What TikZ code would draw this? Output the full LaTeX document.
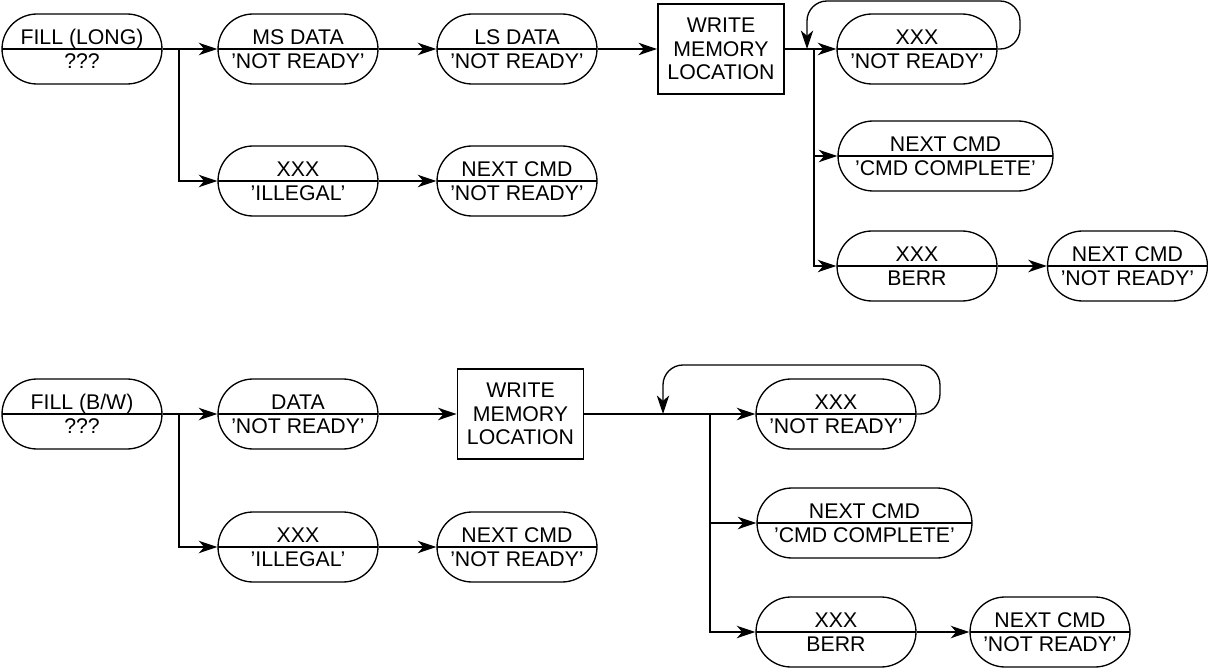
\documentclass[tikz,border=0pt]{standalone}
\usepackage{fontspec}
\setmainfont{Liberation Sans}
\usetikzlibrary{arrows.meta,shapes.misc}

\tikzset{
  etat/.style={rounded rectangle,draw,line width=0.75pt,minimum width=3.2cm,minimum height=1.4cm,inner sep=0pt,
    path picture={\draw[line width=1.2pt] (path picture bounding box.west) -- (path picture bounding box.east);}},
  haut/.style={anchor=base,yshift=2.8pt,inner sep=0pt},
  bas/.style={anchor=base,yshift=-11.3pt,inner sep=0pt},
  boite/.style={draw,line width=1pt,minimum width=2.52cm,minimum height=1.8cm,align=center,inner sep=0pt},
  fleche/.style={line width=1.2pt,-{Stealth[length=10.5pt,width=7pt,inset=3pt]}},
  boucle/.style={line width=0.75pt,rounded corners=0.4cm,-{Stealth[length=10.5pt,width=7pt,inset=3pt]}},
}

\begin{document}
\begin{tikzpicture}[x=0.02cm,y=-0.02cm,font=\fontsize{12.1}{13.3}\selectfont]
  \useasboundingbox (0,0) rectangle (1208,669);
  % --- FILL (LONG) ---
  \node[etat] (fillL) at (82,49){};
  \node[haut] (fillLh) at (fillL){FILL (LONG)};
  \node[bas] (fillLb) at (fillL){???};
  \node[etat] (msdL) at (298,49){};
  \node[haut] (msdLh) at (msdL){MS DATA};
  \node[bas] (msdLb) at (msdL){'NOT READY'};
  \node[etat] (lsdL) at (517,49){};
  \node[haut] (lsdLh) at (lsdL){LS DATA};
  \node[bas] (lsdLb) at (lsdL){'NOT READY'};
  \node[boite] (wmL) at (721,49){WRITE\\MEMORY\\LOCATION};
  \node[etat] (xxxL) at (917,49){};
  \node[haut] (xxxLh) at (xxxL){XXX};
  \node[bas] (xxxLb) at (xxxL){'NOT READY'};
  \node[etat,minimum width=4.3cm] (ccL) at (945.5,156){};
  \node[haut] (ccLh) at (ccL){NEXT CMD};
  \node[bas] (ccLb) at (ccL){'CMD COMPLETE'};
  \node[etat] (berrL) at (917,266){};
  \node[haut] (berrLh) at (berrL){XXX};
  \node[bas] (berrLb) at (berrL){BERR};
  \node[etat] (ncBL) at (1127.5,266){};
  \node[haut] (ncBLh) at (ncBL){NEXT CMD};
  \node[bas] (ncBLb) at (ncBL){'NOT READY'};
  \node[etat] (illL) at (298,181){};
  \node[haut] (illLh) at (illL){XXX};
  \node[bas] (illLb) at (illL){'ILLEGAL'};
  \node[etat] (ncIL) at (517,181){};
  \node[haut] (ncILh) at (ncIL){NEXT CMD};
  \node[bas] (ncILb) at (ncIL){'NOT READY'};
  \coordinate (brGL) at (179,49);
  \coordinate (brDL) at (814,49);
  \draw[fleche] (fillL.east) -- (msdL.west);
  \draw[fleche] (brGL) |- (illL.west);
  \draw[fleche] (msdL.east) -- (lsdL.west);
  \draw[fleche] (lsdL.east) -- (wmL.west);
  \draw[fleche] (illL.east) -- (ncIL.west);
  \draw[fleche] (wmL.east) -- (xxxL.west);
  \draw[fleche] (brDL) |- (ccL.west);
  \draw[fleche] (brDL) |- (berrL.west);
  \draw[fleche] (berrL.east) -- (ncBL.west);
  \draw[boucle] (xxxL.east) -- (1020,49) -- (1020,1) -- (807,1) -- (807,49);
  % --- FILL (B/W) ---
  \node[etat] (fillB) at (82,414){};
  \node[haut] (fillBh) at (fillB){FILL (B/W)};
  \node[bas] (fillBb) at (fillB){???};
  \node[etat] (datB) at (298,414){};
  \node[haut] (datBh) at (datB){DATA};
  \node[bas] (datBb) at (datB){'NOT READY'};
  \node[boite] (wmB) at (520.5,414){WRITE\\MEMORY\\LOCATION};
  \node[etat] (xxxB) at (836,414){};
  \node[haut] (xxxBh) at (xxxB){XXX};
  \node[bas] (xxxBb) at (xxxB){'NOT READY'};
  \node[etat,minimum width=4.3cm] (ccB) at (864.5,523){};
  \node[haut] (ccBh) at (ccB){NEXT CMD};
  \node[bas] (ccBb) at (ccB){'CMD COMPLETE'};
  \node[etat] (berrB) at (836,632){};
  \node[haut] (berrBh) at (berrB){XXX};
  \node[bas] (berrBb) at (berrB){BERR};
  \node[etat] (ncBB) at (1050,632){};
  \node[haut] (ncBBh) at (ncBB){NEXT CMD};
  \node[bas] (ncBBb) at (ncBB){'NOT READY'};
  \node[etat] (illB) at (298,547){};
  \node[haut] (illBh) at (illB){XXX};
  \node[bas] (illBb) at (illB){'ILLEGAL'};
  \node[etat] (ncIB) at (517,547){};
  \node[haut] (ncIBh) at (ncIB){NEXT CMD};
  \node[bas] (ncIBb) at (ncIB){'NOT READY'};
  \coordinate (brGB) at (179,414);
  \coordinate (brDB) at (710,414);
  \draw[fleche] (fillB.east) -- (datB.west);
  \draw[fleche] (brGB) |- (illB.west);
  \draw[fleche] (datB.east) -- (wmB.west);
  \draw[fleche] (illB.east) -- (ncIB.west);
  \draw[fleche] (wmB.east) -- (xxxB.west);
  \draw[fleche] (brDB) |- (ccB.west);
  \draw[fleche] (brDB) |- (berrB.west);
  \draw[fleche] (berrB.east) -- (ncBB.west);
  \draw[boucle] (xxxB.east) -- (940,414) -- (940,365) -- (663,365) -- (663,414);
\end{tikzpicture}
\end{document}
